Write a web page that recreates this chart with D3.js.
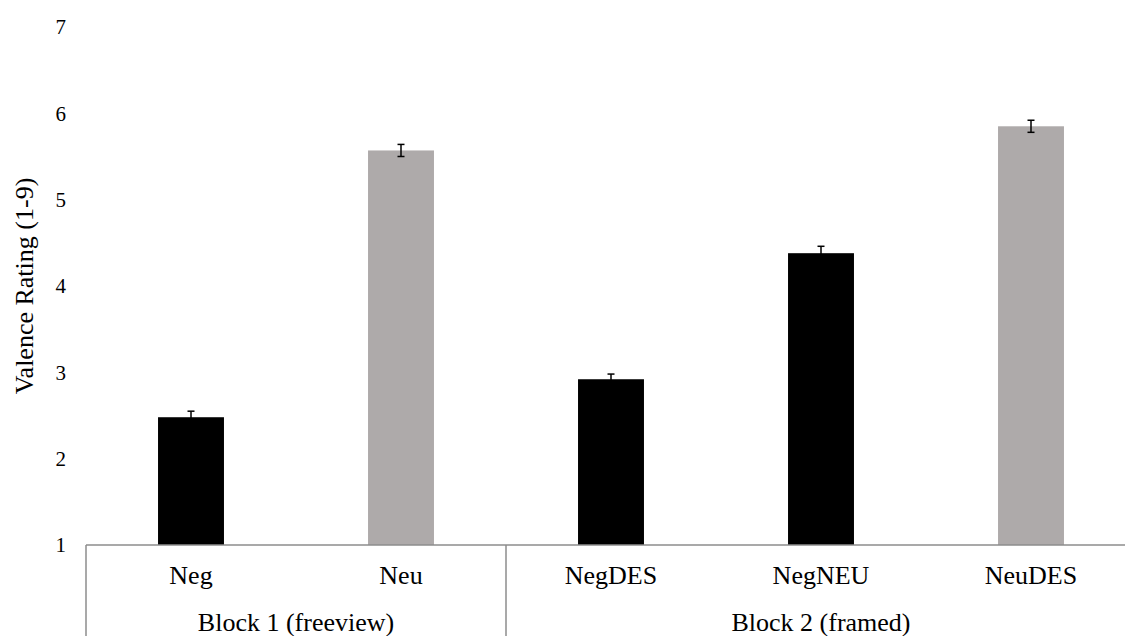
<!DOCTYPE html>
<html>
<head>
<meta charset="utf-8">
<script src="https://cdn.jsdelivr.net/npm/d3@7"></script>
<style>
  html, body { margin: 0; padding: 0; background: #fff; }
  svg { display: block; }
</style>
</head>
<body>
<svg id="chart" width="1125" height="636"></svg>
<script>
// Mean valence ratings per condition, with standard errors
const categories = ["Neg", "Neu", "NegDES", "NegNEU", "NeuDES"];
const blocks = ["Block 1 (freeview)", "Block 1 (freeview)", "Block 2 (framed)", "Block 2 (framed)", "Block 2 (framed)"];
const blockNames = ["Block 1 (freeview)", "Block 2 (framed)"];
const ratings = [2.48, 5.57, 2.92, 4.38, 5.85];
const errors = [0.07, 0.07, 0.06, 0.08, 0.07];
const conditionType = ["neg", "neu", "neg", "neg", "neu"];
const yTicks = [1, 2, 3, 4, 5, 6, 7];

const FONT = '"Liberation Serif", "Times New Roman", serif';
const svg = d3.select("#chart");
const plotLeft = 86, plotRight = 1136, plotTop = 27, plotBottom = 545;

const x = d3.scaleBand().domain(categories).range([plotLeft, plotRight]).paddingInner(0.686).paddingOuter(0.343);
const y = d3.scaleLinear().domain([1, 7]).range([plotBottom, plotTop]);
const color = d3.scaleOrdinal().domain(["neg", "neu"]).range(["#000000", "#aeaaaa"]);

// y tick labels (no axis line, no tick marks)
const yAxis = svg.append("g")
  .attr("transform", `translate(${plotLeft},0)`)
  .call(d3.axisLeft(y).tickValues(yTicks).tickSize(0).tickPadding(20).tickFormat(d3.format("d")));
yAxis.select(".domain").remove();
yAxis.selectAll("text")
  .style("font-family", FONT)
  .style("font-size", "21px")
  .attr("fill", "#000");

// y axis title
svg.append("text")
  .attr("transform", `translate(33,${(plotTop + plotBottom) / 2}) rotate(-90)`)
  .attr("text-anchor", "middle")
  .style("font-family", FONT)
  .style("font-size", "26px")
  .attr("fill", "#000")
  .text("Valence Rating (1-9)");

// bars
const data = categories.map((c, i) => ({ c, v: ratings[i], e: errors[i], t: conditionType[i] }));
svg.append("g").selectAll("rect").data(data).join("rect")
  .attr("x", d => x(d.c))
  .attr("width", x.bandwidth())
  .attr("y", d => y(d.v))
  .attr("height", d => y(1) - y(d.v))
  .attr("fill", d => color(d.t));

// error bars
const eb = svg.append("g").attr("stroke", "#000").attr("stroke-width", 1.5);
data.forEach(d => {
  const cx = x(d.c) + x.bandwidth() / 2;
  eb.append("line").attr("x1", cx).attr("x2", cx).attr("y1", y(d.v + d.e)).attr("y2", y(d.v - d.e));
  eb.append("line").attr("x1", cx - 3.5).attr("x2", cx + 3.5).attr("y1", y(d.v + d.e)).attr("y2", y(d.v + d.e));
  eb.append("line").attr("x1", cx - 3.5).attr("x2", cx + 3.5).attr("y1", y(d.v - d.e)).attr("y2", y(d.v - d.e));
});

// category axis: baseline, block dividers, labels
const gap = x.step() - x.bandwidth();
const blockStart = name => x(categories[blocks.indexOf(name)]) - gap / 2;
const blockEnd = name => x(categories[blocks.lastIndexOf(name)]) + x.bandwidth() + gap / 2;

const axisG = svg.append("g").attr("stroke", "#8c8c8c").attr("stroke-width", 1.5);
axisG.append("line").attr("x1", plotLeft).attr("x2", plotRight).attr("y1", plotBottom).attr("y2", plotBottom);
const dividers = blockNames.map(blockStart).concat([blockEnd(blockNames[blockNames.length - 1])]);
axisG.selectAll("line.div").data(dividers).join("line").attr("class", "div")
  .attr("x1", d => d).attr("x2", d => d).attr("y1", plotBottom).attr("y2", 636);

svg.append("g").selectAll("text").data(categories).join("text")
  .attr("x", d => x(d) + x.bandwidth() / 2)
  .attr("y", 584)
  .attr("text-anchor", "middle")
  .style("font-family", FONT)
  .style("font-size", "26px")
  .attr("fill", "#000")
  .text(d => d);

svg.append("g").selectAll("text").data(blockNames).join("text")
  .attr("x", d => (blockStart(d) + blockEnd(d)) / 2)
  .attr("y", 631)
  .attr("text-anchor", "middle")
  .style("font-family", FONT)
  .style("font-size", "26px")
  .attr("fill", "#000")
  .text(d => d);
</script>
</body>
</html>
